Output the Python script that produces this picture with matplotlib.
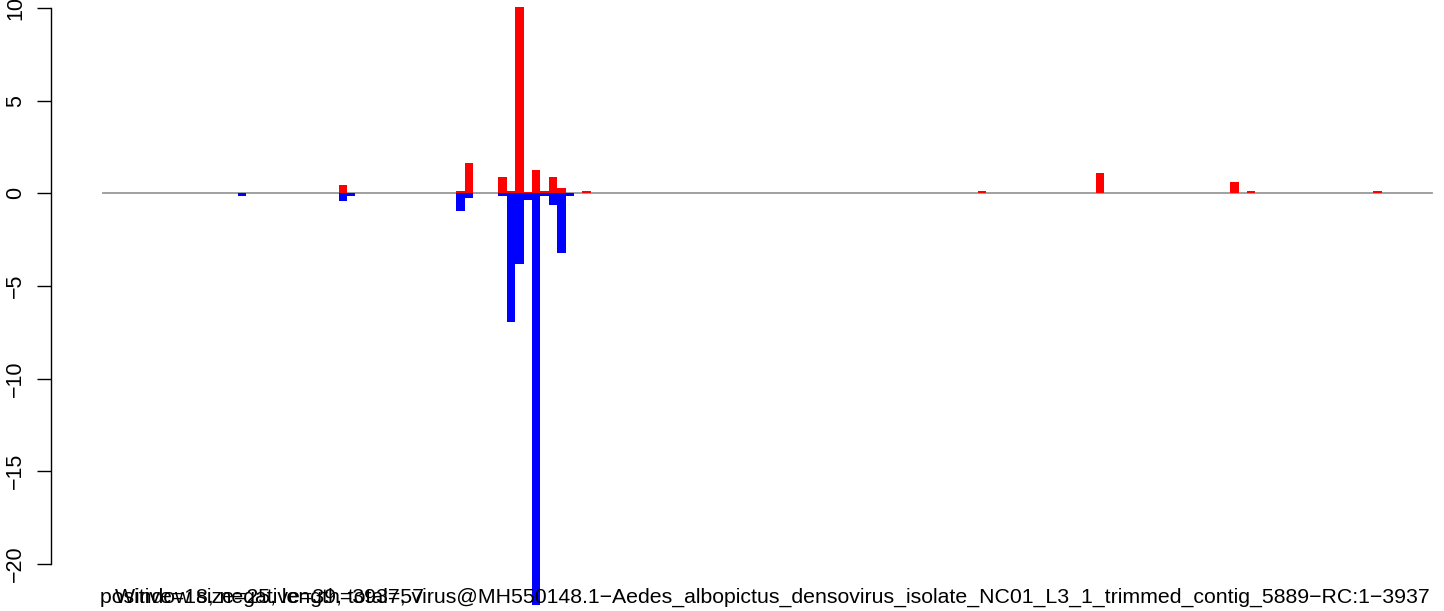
import numpy as np
import matplotlib
matplotlib.use('Agg')
import matplotlib.pyplot as plt

plt.rcParams['font.family'] = ['Liberation Sans', 'DejaVu Sans']

# 25-bp windows over a 3937-bp contig -> 158 windows
n_windows = 158

# positive (red) windows and their values
pos_idx = [28, 42, 43, 47, 48, 49, 50, 51, 52, 53, 54, 57, 104, 118, 134, 136, 151]
pos_val = [0.43, 0.1, 1.62, 0.86, 0.1, 10.05, 0.06, 1.24, 0.1, 0.86, 0.27, 0.1,
           0.14, 1.08, 0.59, 0.12, 0.1]

# negative (blue) windows and their values
neg_idx = [16, 28, 29, 42, 43, 47, 48, 49, 50, 51, 52, 53, 54, 55]
neg_val = [-0.13, -0.41, -0.15, -0.96, -0.25, -0.13, -6.95, -3.82, -0.36, -22.2,
           -0.15, -0.63, -3.23, -0.13]

y_ticks = [-20, -15, -10, -5, 0, 5, 10]

info_text = 'positive=18, negative=39, total=57'
title_text = ('Window size=25, length=3937, virus@MH550148.1\u2212Aedes_albopictus_densovirus_'
              'isolate_NC01_L3_1_trimmed_contig_5889\u2212RC:1\u22123937')

pos = np.zeros(n_windows)
neg = np.zeros(n_windows)
pos[pos_idx] = pos_val
neg[neg_idx] = neg_val

W, H = 1444, 611
fig = plt.figure(figsize=(W / 100, H / 100), dpi=100)
ax = fig.add_axes([51 / W, 0, 1 - 51 / W, 1])

px_x = (1432 - 103) / n_windows
ax.set_xlim(-(103 - 51) / px_x, n_windows + (W - 1432) / px_x)
px_y = (564 - 8) / 30
ax.set_ylim(-20 - (H - 564) / px_y, 10 + 8 / px_y)

x = np.arange(n_windows)
ax.plot([0, n_windows], [0, 0], color='#999999', linewidth=1.3, zorder=1)
ax.bar(x, pos, width=1.0, align='edge', color='#FF0000', linewidth=0, zorder=2)
ax.bar(x, neg, width=1.0, align='edge', color='#0000FF', linewidth=0, zorder=2)

for s in ['top', 'right', 'bottom']:
    ax.spines[s].set_visible(False)
ax.spines['left'].set_bounds(-20, 10)
ax.spines['left'].set_linewidth(1.0)
ax.set_yticks(y_ticks)
ax.set_yticklabels([str(t).replace('-', '\u2212') for t in y_ticks], rotation=90, va='center')
ax.tick_params(axis='y', length=10, width=1.0, labelsize=15.5, pad=8)
ax.set_xticks([])
ax.patch.set_alpha(0)

fig.text(100 / W, 1 - 603 / H, info_text, fontsize=15.3, ha='left', va='baseline')
fig.text(772 / W, 1 - 603 / H, title_text, fontsize=15.3, ha='center', va='baseline')

fig.savefig('out.png', dpi=100)
